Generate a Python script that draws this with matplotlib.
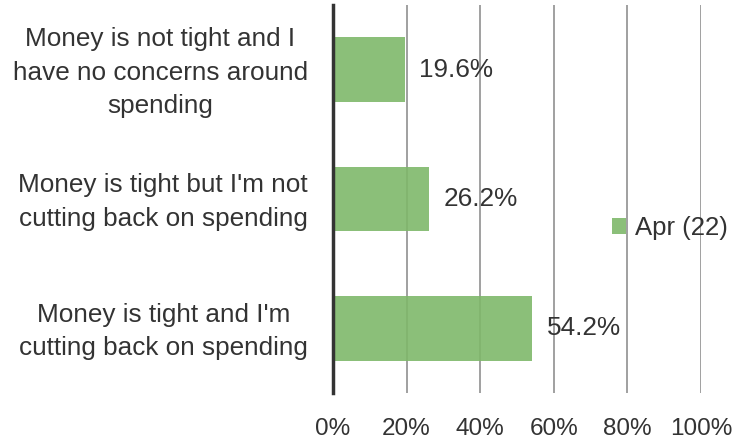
import matplotlib
matplotlib.use("Agg")
import matplotlib.pyplot as plt
import matplotlib.transforms as mtransforms

plt.rcParams['font.family'] = ['Liberation Sans', 'DejaVu Sans']

categories = [
    "Money is not tight and I\nhave no concerns around\nspending",
    "Money is tight but I'm not\ncutting back on spending",
    "Money is tight and I'm\ncutting back on spending",
]
values = [19.6, 26.2, 54.2]
series_name = "Apr (22)"
xticks = [0, 20, 40, 60, 80, 100]
xtick_labels = ["0%", "20%", "40%", "60%", "80%", "100%"]

bar_color = "#7fb86a"
text_color = "#333333"

fig = plt.figure(figsize=(7.38, 4.43), dpi=100)
ax = fig.add_axes([333 / 738, 1 - 393 / 443, 368 / 738, 388 / 443])

y = list(range(len(categories)))
bars = ax.barh(y, values, height=0.5, color=bar_color, alpha=0.9,
               label=series_name, zorder=3)

ax.set_xlim(0, 100)
ax.set_ylim(2.5, -0.5)
ax.set_xticks(xticks)
ax.set_xticklabels(xtick_labels)
ax.set_yticks(y)
ax.set_yticklabels([])

# category labels, placed left of the axis and centred on each bar
label_tf = ax.get_yaxis_transform() + mtransforms.ScaledTranslation(
    -25 / 100, -3 / 100, fig.dpi_scale_trans)
for yi, cat in zip(y, categories):
    ax.text(0, yi, cat, transform=label_tf, ha="right", va="center",
            multialignment="center", linespacing=1.5, fontsize=18.8,
            color=text_color)

ax.xaxis.grid(True, color="#a0a0a0", linewidth=1.4, zorder=2)
ax.yaxis.grid(False)
ax.tick_params(axis="both", length=0, colors=text_color)
ax.tick_params(axis="x", labelsize=17.5, pad=18)

for side in ("top", "right", "bottom"):
    ax.spines[side].set_visible(False)
ax.spines["left"].set_color("#333333")
ax.spines["left"].set_linewidth(2.5)
ax.spines["left"].set_zorder(4)

for yi, v in zip(y, values):
    ax.text(v + 3.8, yi, f"{v:.1f}%", va="center", ha="left",
            fontsize=18.8, color=text_color, zorder=5)

leg = ax.legend(loc="center left", bbox_to_anchor=((602 - 333) / 368, 1 - (228 - 5) / 388),
                frameon=False, fontsize=18.5, handlelength=0.55, handleheight=0.55,
                handletextpad=0.35, borderaxespad=0, labelcolor=text_color)

fig.savefig("out.png", dpi=100)
